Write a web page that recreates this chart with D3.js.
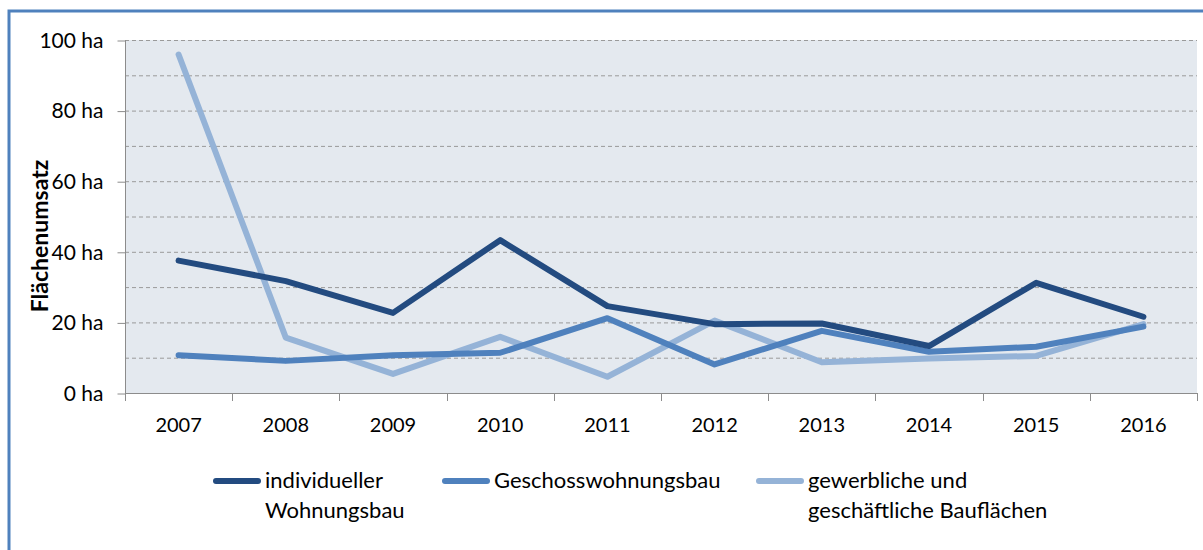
<!DOCTYPE html>
<html>
<head>
<meta charset="utf-8">
<title>Flächenumsatz</title>
<script src="https://cdn.jsdelivr.net/npm/d3@7"></script>
<style>
  body { margin: 0; background: #fff; }
  text { font-family: Lato, "Noto Sans", sans-serif; fill: #000; }
</style>
</head>
<body>
<script>
const years = ["2007","2008","2009","2010","2011","2012","2013","2014","2015","2016"];
const individuell = [37.5, 31.7, 22.7, 43.3, 24.6, 19.5, 19.7, 13.3, 31.2, 21.6];
const geschoss = [10.7, 9.1, 10.7, 11.4, 21.2, 8.1, 17.6, 11.7, 13.1, 18.8];
const gewerbe = [95.9, 15.7, 5.4, 15.9, 4.6, 20.5, 8.7, 9.8, 10.5, 19.5];
const seriesNames = [["individueller", "Wohnungsbau"], ["Geschosswohnungsbau"], ["gewerbliche und", "geschäftliche Bauflächen"]];
const colors = ["#234b80", "#4f81bd", "#95b3d7"];
const yTicks = [0, 20, 40, 60, 80, 100];
const gridVals = [10, 20, 30, 40, 50, 60, 70, 80, 90, 100];

const W = 1203, H = 550;
const plotL = 125, plotR = 1197, plotT = 40, plotB = 393;

const svg = d3.select("body").append("svg")
  .attr("width", W).attr("height", H);

// outer frame
svg.append("rect")
  .attr("x", 9).attr("y", 11)
  .attr("width", W + 20).attr("height", H + 20)
  .attr("fill", "none").attr("stroke", "#4f81bd").attr("stroke-width", 3);

const x = d3.scaleBand().domain(years).range([plotL, plotR]);
const y = d3.scaleLinear().domain([0, 100]).range([plotB, plotT]);

// plot background
svg.append("rect")
  .attr("x", plotL).attr("y", plotT)
  .attr("width", plotR - plotL).attr("height", plotB - plotT)
  .attr("fill", "#e4e9ef");

// grid lines
svg.append("g").selectAll("line")
  .data(gridVals)
  .enter().append("line")
  .attr("x1", plotL).attr("x2", plotR)
  .attr("y1", d => y(d) + 0.5).attr("y2", d => y(d) + 0.5)
  .attr("stroke", "#9a9a9a")
  .attr("stroke-dasharray", "4,3");

// y axis
const yAxis = d3.axisLeft(y).tickValues(yTicks).tickSize(8).tickPadding(14)
  .tickFormat(d => d + " ha");
const gy = svg.append("g")
  .attr("transform", "translate(" + (plotL + 0.5) + ",0.5)")
  .call(yAxis);
gy.select(".domain").attr("stroke", "#8c8c8c").attr("d", "M0," + (plotT - 0.5) + "V" + (plotB - 0.5));
gy.selectAll(".tick line").attr("stroke", "#8c8c8c");
gy.selectAll(".tick text").style("font-size", "21px");

// x axis
const xAxis = d3.axisBottom(x).tickSize(0).tickPadding(24);
const gx = svg.append("g")
  .attr("transform", "translate(0," + (plotB + 0.5) + ")")
  .call(xAxis);
gx.select(".domain").attr("stroke", "#8c8c8c").attr("d", "M" + plotL + ",0H" + plotR);
gx.selectAll(".tick text").style("font-size", "20px");

// category boundary ticks
const bounds = years.map(d => x(d)).concat([plotR]);
svg.append("g").selectAll("line")
  .data(bounds)
  .enter().append("line")
  .attr("x1", d => Math.round(d) + 0.5).attr("x2", d => Math.round(d) + 0.5)
  .attr("y1", plotB).attr("y2", plotB + 8)
  .attr("stroke", "#8c8c8c");

// axis title
svg.append("text")
  .attr("transform", "translate(48,236) rotate(-90)")
  .attr("text-anchor", "middle")
  .style("font-size", "23px")
  .style("font-weight", "bold")
  .text("Flächenumsatz");

// lines
const allSeries = [individuell, geschoss, gewerbe];
const line = d3.line()
  .x((d, i) => x(years[i]) + x.bandwidth() / 2)
  .y(d => y(d));

// draw lightest first so the dark one stays on top
[2, 1, 0].forEach(k => {
  svg.append("path")
    .datum(allSeries[k])
    .attr("d", line)
    .attr("fill", "none")
    .attr("stroke", colors[k])
    .attr("stroke-width", 6)
    .attr("stroke-linejoin", "round")
    .attr("stroke-linecap", "round");
});

// legend
const legendX = [213, 442, 756];
const legend = svg.append("g");
seriesNames.forEach((names, k) => {
  legend.append("line")
    .attr("x1", legendX[k] + 3).attr("x2", legendX[k] + 45)
    .attr("y1", 481).attr("y2", 481)
    .attr("stroke", colors[k]).attr("stroke-width", 6)
    .attr("stroke-linecap", "round");
  const t = legend.append("text")
    .attr("x", legendX[k] + 52).attr("y", 488)
    .style("font-size", "22px");
  names.forEach((n, j) => {
    t.append("tspan").attr("x", legendX[k] + 52).attr("dy", j === 0 ? 0 : 30).text(n);
  });
});
</script>
</body>
</html>
